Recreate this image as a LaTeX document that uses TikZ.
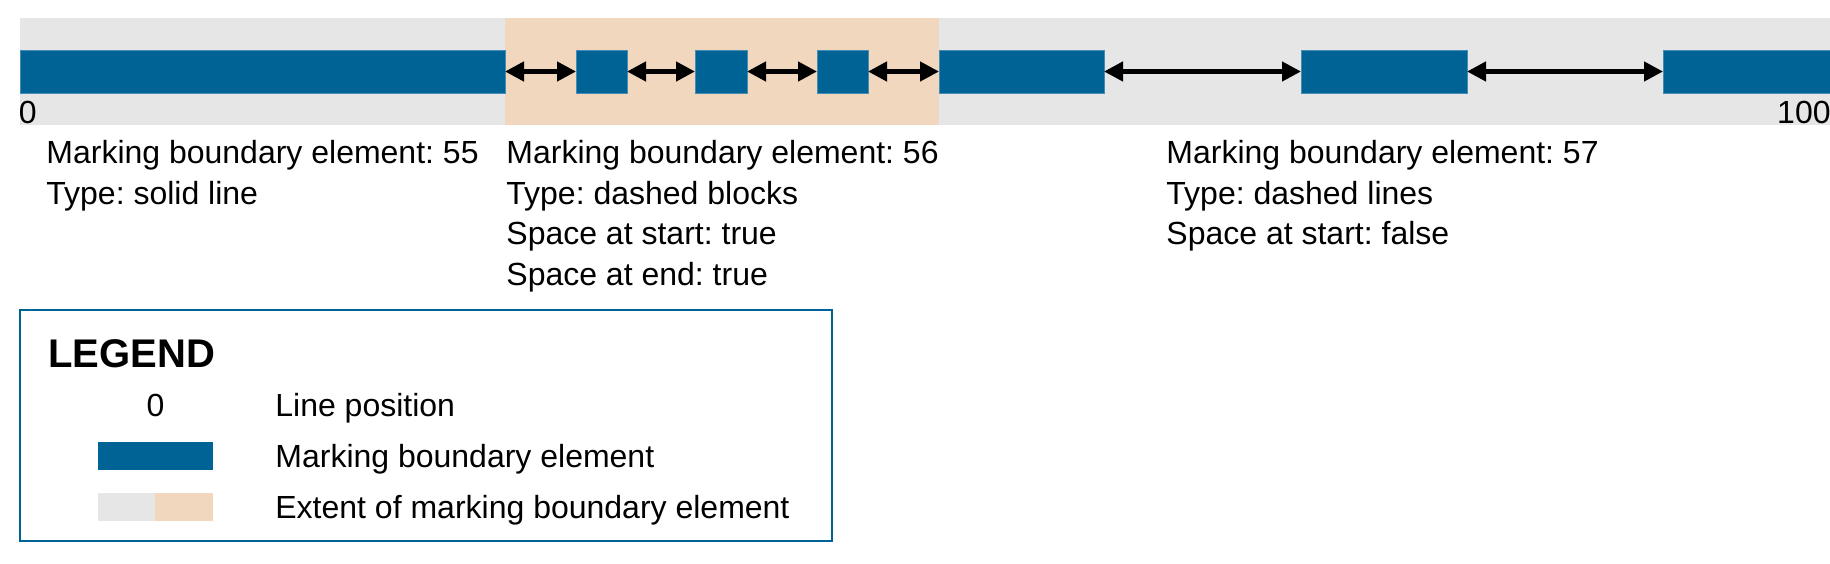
\documentclass[tikz,border=0pt]{standalone}
\usepackage{fontspec}
\setmainfont{Liberation Sans}
\frenchspacing
\usetikzlibrary{arrows.meta}
\definecolor{mbblue}{RGB}{0,99,150}
\definecolor{mbedge}{RGB}{70,140,180}
\definecolor{extgray}{RGB}{230,230,230}
\definecolor{extpeach}{RGB}{240,215,190}

\begin{document}
\begin{tikzpicture}[x=0.5pt,y=0.5pt,yscale=-1,
    mbar/.style={draw=mbedge,line width=0.4pt,fill=mbblue,inner sep=0pt,outer sep=0pt,minimum height=21.5pt,anchor=north west},
    gapline/.style={{Triangle[length=9.5pt,width=9.5pt]}-{Triangle[length=9.5pt,width=9.5pt]},line width=2.2pt},
    txt/.style={font=\fontsize{16}{20.25}\selectfont,inner sep=0pt}]
        \useasboundingbox (0,0) rectangle (1830,563);
        %Shape: Rectangle (extent, grey)
        \fill [extgray] (20,18) rectangle (1830,125) ;
        %Shape: Rectangle (extent, element 56)
        \fill [extpeach] (505,18) rectangle (939,125) ;

        %Shape: Rectangle (element 55)
        \node [mbar,minimum width=242.5pt] (e55) at (20,50) {};
        %Shape: Rectangle (element 56 blocks)
        \node [mbar,minimum width=25.5pt] (blk1) at (576,50) {};
        \node [mbar,minimum width=26pt] (blk2) at (695,50) {};
        \node [mbar,minimum width=25.5pt] (blk3) at (817,50) {};
        %Shape: Rectangle (element 57 lines)
        \node [mbar,minimum width=82.5pt] (ln1) at (939,50) {};
        \node [mbar,minimum width=83pt] (ln2) at (1301,50) {};
        \node [mbar,minimum width=83.5pt] (ln3) at (1663,50) {};

        %Straight Lines (gaps)
        \draw [gapline] (e55.east) -- (blk1.west) ;
        \draw [gapline] (blk1.east) -- (blk2.west) ;
        \draw [gapline] (blk2.east) -- (blk3.west) ;
        \draw [gapline] (blk3.east) -- (ln1.west) ;
        \draw [gapline] (ln1.east) -- (ln2.west) ;
        \draw [gapline] (ln2.east) -- (ln3.west) ;

        % Text Node
        \node [txt,anchor=base west] (pos0) at (18.5,123) {0};
        % Text Node
        \node [txt,anchor=base east] (pos100) at (1831,123) {100};
        % Text Node
        \node [txt,anchor=north west,align=left] (t55) at (46,140) {Marking boundary element: 55\\Type: solid line};
        % Text Node
        \node [txt,anchor=north west,align=left] (t56) at (506,140) {Marking boundary element: 56\\Type: dashed blocks\\Space at start: true\\Space at end: true};
        % Text Node
        \node [txt,anchor=north west,align=left] (t57) at (1166,140) {Marking boundary element: 57\\Type: dashed lines\\Space at start: false};

        %Shape: Rectangle (legend frame)
        \draw [mbblue,line width=1.25pt] (20,310) rectangle (832,541) ;
        % Text Node
        \node [inner sep=0pt,anchor=base west,font=\fontsize{20}{24}\selectfont\bfseries] (legtitle) at (48,367) {LEGEND};
        % Text Node
        \node [txt,anchor=base] (leg0) at (155.5,416) {0};
        %Shape: Rectangle (legend swatches)
        \fill [mbblue] (98,442) rectangle (212.5,469.5) ;
        \fill [extgray] (98,493) rectangle (155,521) ;
        \fill [extpeach] (155,493) rectangle (212.5,521) ;
        % Text Node
        \node [txt,anchor=base west] (legpos) at (275,416) {Line position};
        % Text Node
        \node [txt,anchor=base west] (legmbe) at (275,467) {Marking boundary element};
        % Text Node
        \node [txt,anchor=base west] (legext) at (275,518) {Extent of marking boundary element};
    \end{tikzpicture}
\end{document}
